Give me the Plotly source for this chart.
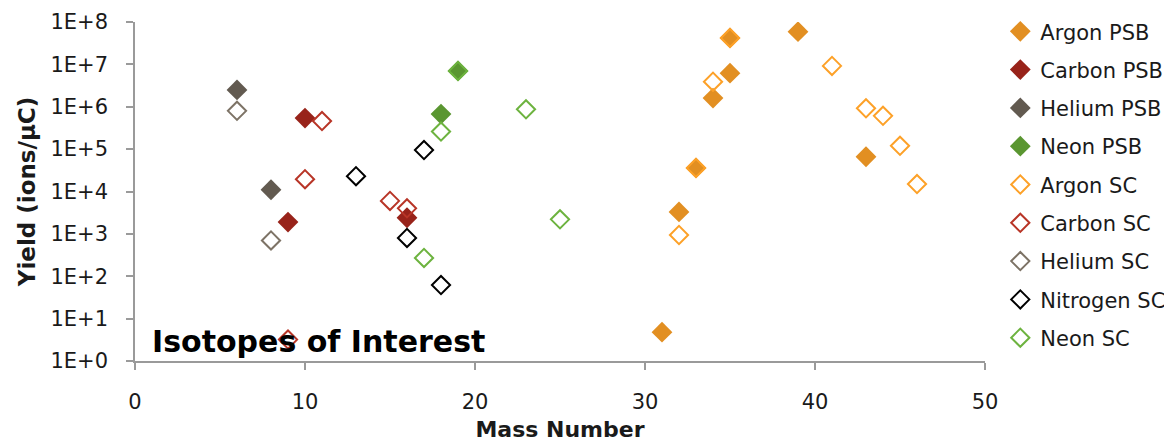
import plotly.graph_objects as go

# ---- data ----
argon_psb_x = [31, 32, 33, 34, 35, 35, 39, 43]
argon_psb_y = [4.8, 3300, 36000, 1.6e6, 6.2e6, 4.2e7, 5.9e7, 6.6e4]
carbon_psb_x = [9, 10, 16]
carbon_psb_y = [1900, 5.4e5, 2400]
helium_psb_x = [6, 8]
helium_psb_y = [2.5e6, 1.1e4]
neon_psb_x = [18, 19]
neon_psb_y = [6.7e5, 7e6]
argon_sc_x = [32, 33, 34, 35, 41, 43, 44, 45, 46]
argon_sc_y = [940, 3.6e4, 3.9e6, 4.2e7, 9.2e6, 9.2e5, 6.1e5, 1.2e5, 1.5e4]
carbon_sc_x = [9, 10, 11, 15, 16]
carbon_sc_y = [3.2, 1.95e4, 4.6e5, 6e3, 4e3]
helium_sc_x = [6, 8]
helium_sc_y = [8e5, 700]
nitrogen_sc_x = [13, 16, 17, 18]
nitrogen_sc_y = [2.3e4, 800, 9.5e4, 62]
neon_sc_x = [17, 18, 19, 23, 25]
neon_sc_y = [270, 2.6e5, 7e6, 8.7e5, 2.2e3]

x_tickvals = [0, 10, 20, 30, 40, 50]
y_tickvals = [1, 10, 100, 1e3, 1e4, 1e5, 1e6, 1e7, 1e8]
y_ticktext = ["1E+0", "1E+1", "1E+2", "1E+3", "1E+4", "1E+5", "1E+6", "1E+7", "1E+8"]

FONT = "DejaVu Sans"
TXT = "#1a1a1a"

series = [
    ("Argon PSB", argon_psb_x, argon_psb_y, "#E28F22", True),
    ("Carbon PSB", carbon_psb_x, carbon_psb_y, "#98231A", True),
    ("Helium PSB", helium_psb_x, helium_psb_y, "#625A50", True),
    ("Neon PSB", neon_psb_x, neon_psb_y, "#5A9631", True),
    ("Argon SC", argon_sc_x, argon_sc_y, "#FDA128", False),
    ("Carbon SC", carbon_sc_x, carbon_sc_y, "#B83527", False),
    ("Helium SC", helium_sc_x, helium_sc_y, "#7D7366", False),
    ("Nitrogen SC", nitrogen_sc_x, nitrogen_sc_y, "#000000", False),
    ("Neon SC", neon_sc_x, neon_sc_y, "#6DB33F", False),
]

fig = go.Figure()
for i, (name, xs, ys, color, filled) in enumerate(series):
    if filled:
        marker = dict(symbol="diamond", size=16, color=color, line=dict(width=0))
    else:
        marker = dict(symbol="diamond-open", size=14, color=color, line=dict(width=2, color=color))
    fig.add_trace(go.Scatter(x=xs, y=ys, mode="markers", name=name, marker=marker,
                             legendgroup=f"g{i}"))

# the page body adds an 8px offset, so the figure is drawn 8px smaller
fig.update_layout(
    width=1164, height=439,
    margin=dict(l=127, r=187, t=14, b=86, autoexpand=False),
    paper_bgcolor="white", plot_bgcolor="white",
    font=dict(family=FONT, color=TXT, size=20),
    showlegend=True,
    legend=dict(x=1.018, xanchor="left", y=0.532, yanchor="middle",
                font=dict(size=21, family=FONT, color=TXT),
                tracegroupgap=8, itemwidth=30, bgcolor="rgba(0,0,0,0)"),
    xaxis=dict(range=[0, 50], tickvals=x_tickvals, showgrid=False, zeroline=False,
               showline=True, linecolor="#9a9a9a", linewidth=1.5,
               ticks="outside", ticklen=7, tickcolor="#9a9a9a", tickwidth=1.5,
               tickfont=dict(size=21, family=FONT, color=TXT), ticklabelstandoff=14,
               automargin=False,
               title=dict(text="<b>Mass Number</b>", font=dict(size=22, family=FONT, color=TXT), standoff=9)),
    yaxis=dict(type="log", range=[0, 8], tickvals=y_tickvals, ticktext=y_ticktext,
               showgrid=False, zeroline=False,
               showline=True, linecolor="#9a9a9a", linewidth=1.5,
               ticks="outside", ticklen=7, tickcolor="#9a9a9a", tickwidth=1.5,
               tickfont=dict(size=21, family=FONT, color=TXT), ticklabelstandoff=14,
               automargin=False,
               title=dict(text="<b>Yield (ions/μC)</b>", font=dict(size=23, family=FONT, color=TXT), standoff=8)),
)

fig.add_annotation(text="<b>Isotopes of Interest</b>", xref="paper", yref="paper",
                   x=0.0176, y=0.0, xanchor="left", yanchor="bottom", showarrow=False,
                   font=dict(size=30, family=FONT, color="#000000"))

fig.write_html("out.html")
